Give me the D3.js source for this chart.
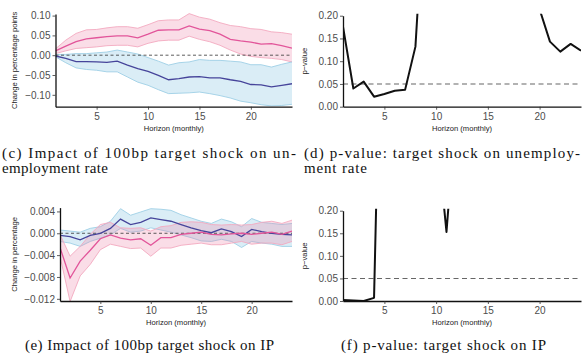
<!DOCTYPE html>
<html>
<head>
<meta charset="utf-8">
<script src="https://cdn.jsdelivr.net/npm/d3@7"></script>
<style>
  body { margin: 0; background: #fff; }
  svg { display: block; }
  .tick text { font-family: "Liberation Sans", Arial, sans-serif; font-size: 10px; fill: #4d4d4d; }
  .axis-title { font-family: "Liberation Sans", Arial, sans-serif; font-size: 7.6px; fill: #222; }
  .caption { font-family: "Liberation Serif", "Times New Roman", serif; font-size: 15px; fill: #111; }
</style>
</head>
<body>
<svg id="chart" width="587" height="356"></svg>
<script>
// horizon (months)
const horizon = [1, 2, 3, 4, 5, 6, 7, 8, 9, 10, 11, 12, 13, 14, 15, 16, 17, 18, 19, 20, 21, 22, 23, 24];

// (c) unemployment rate response
const unempPink   = [0.011, 0.023, 0.034, 0.041, 0.044, 0.047, 0.049, 0.049, 0.044, 0.053, 0.063, 0.064, 0.064, 0.074, 0.066, 0.062, 0.053, 0.040, 0.036, 0.033, 0.028, 0.029, 0.024, 0.018];
const unempPinkHi = [0.016, 0.038, 0.055, 0.064, 0.065, 0.069, 0.072, 0.072, 0.068, 0.077, 0.087, 0.089, 0.089, 0.105, 0.096, 0.091, 0.082, 0.075, 0.072, 0.067, 0.065, 0.059, 0.057, 0.053];
const unempPinkLo = [0.004, 0.011, 0.017, 0.019, 0.021, 0.024, 0.025, 0.025, 0.021, 0.030, 0.036, 0.038, 0.038, 0.048, 0.040, 0.034, 0.025, 0.013, 0.003, -0.003, -0.006, -0.008, -0.011, -0.017];
const unempBlue   = [-0.002, -0.008, -0.016, -0.016, -0.017, -0.018, -0.015, -0.025, -0.034, -0.041, -0.051, -0.062, -0.059, -0.055, -0.054, -0.057, -0.057, -0.062, -0.066, -0.074, -0.075, -0.080, -0.076, -0.072];
const unempBlueHi = [0.002, 0.002, 0.004, 0.004, 0.006, 0.008, 0.013, 0.008, 0.003, -0.006, -0.015, -0.025, -0.019, -0.017, -0.011, -0.013, -0.013, -0.015, -0.017, -0.024, -0.024, -0.030, -0.023, -0.017];
const unempBlueLo = [-0.004, -0.019, -0.032, -0.036, -0.038, -0.042, -0.042, -0.055, -0.068, -0.076, -0.087, -0.097, -0.096, -0.095, -0.093, -0.097, -0.102, -0.108, -0.116, -0.120, -0.125, -0.128, -0.127, -0.124];

// (d) p-values, unemployment
const pUnemp = [0.176, 0.040, 0.055, 0.022, 0.028, 0.035, 0.037, 0.132, 0.51, 0.58, 0.64, 0.70, 0.66, 0.61, 0.57, 0.52, 0.47, 0.41, 0.33, 0.214, 0.143, 0.121, 0.138, 0.123];

// (e) industrial production response
const ipPink   = [-0.0026, -0.0082, -0.0051, -0.0031, -0.0010, -0.0003, -0.0009, -0.0012, -0.0010, -0.0022, -0.0008, -0.0008, -0.0002, 0.0000, 0.0002, -0.0002, -0.0003, -0.0001, 0.0000, -0.0002, 0.0000, 0.0002, -0.0002, 0.0004];
const ipPinkHi = [-0.0002, -0.0042, -0.0024, -0.0002, 0.0016, 0.0020, 0.0010, 0.0009, 0.0010, 0.0004, 0.0012, 0.0014, 0.0020, 0.0021, 0.0020, 0.0016, 0.0015, 0.0016, 0.0015, 0.0016, 0.0020, 0.0022, 0.0018, 0.0024];
const ipPinkLo = [-0.0042, -0.0125, -0.0078, -0.0057, -0.0030, -0.0020, -0.0024, -0.0028, -0.0027, -0.0042, -0.0027, -0.0027, -0.0022, -0.0020, -0.0018, -0.0021, -0.0021, -0.0018, -0.0015, -0.0020, -0.0018, -0.0018, -0.0021, -0.0015];
const ipBlue   = [-0.0004, -0.0006, -0.0012, -0.0004, 0.0000, 0.0009, 0.0026, 0.0016, 0.0020, 0.0028, 0.0025, 0.0022, 0.0016, 0.0010, 0.0005, 0.0001, 0.0008, 0.0003, -0.0006, 0.0007, 0.0003, 0.0000, -0.0002, -0.0003];
const ipBlueHi = [0.0006, 0.0004, 0.0002, 0.0009, 0.0012, 0.0022, 0.0045, 0.0033, 0.0039, 0.0045, 0.0044, 0.0042, 0.0034, 0.0028, 0.0022, 0.0018, 0.0026, 0.0021, 0.0012, 0.0027, 0.0020, 0.0018, 0.0016, 0.0018];
const ipBlueLo = [-0.0015, -0.0018, -0.0024, -0.0015, -0.0009, -0.0003, 0.0009, 0.0002, 0.0004, 0.0010, 0.0006, 0.0002, -0.0003, -0.0008, -0.0014, -0.0015, -0.0011, -0.0015, -0.0026, -0.0015, -0.0018, -0.0020, -0.0024, -0.0024];

// (f) p-values, IP
const pIP = [0.002, 0.001, 0.000, 0.007, 1.0, 0.82, 0.71, 0.62, 0.52, 0.388, 0.153, 0.447, 0.55, 0.62, 0.48, 0.71, 0.66, 0.58, 0.74, 0.69, 0.63, 0.77, 0.72, 0.68];

const xTicks = [5, 10, 15, 20];
const irfTicksUnemp = [-0.10, -0.05, 0.00, 0.05, 0.10];
const irfTicksIP = [-0.012, -0.008, -0.004, 0.000, 0.004];
const pTicks = [0.00, 0.05, 0.10, 0.15, 0.20];

const colors = {
  pinkLine: "#e2559a", pinkFill: "rgba(238,130,165,0.27)", pinkEdge: "#f3a9c0",
  blueLine: "#46449a", blueFill: "rgba(120,190,220,0.27)", blueEdge: "#9ecfe5"
};

const svg = d3.select("#chart");

function makeScales(p) {
  const x = d3.scaleLinear().domain([1, 24]).range([p.left, p.right]);
  const y = d3.scaleLinear().domain(p.yDomain).range([p.bottom, p.top]);
  return { x, y };
}

function addClip(p) {
  svg.append("clipPath").attr("id", "clip-" + p.id)
    .append("rect")
    .attr("x", p.left).attr("y", p.top - 2)
    .attr("width", p.right - p.left).attr("height", p.bottom - p.top + 2);
  return svg.append("g").attr("clip-path", `url(#clip-${p.id})`);
}

function drawAxes(p, x, y) {
  const xAxis = svg.append("g")
    .attr("transform", `translate(0,${p.bottom})`)
    .call(d3.axisBottom(x).tickValues(xTicks).tickSize(3).tickSizeOuter(0).tickPadding(3));
  const yAxis = svg.append("g")
    .attr("transform", `translate(${p.left},0)`)
    .call(d3.axisLeft(y).tickValues(p.yTicks).tickFormat(d3.format(p.fmt)).tickSize(3).tickSizeOuter(0).tickPadding(2));
  [xAxis, yAxis].forEach((a) => {
    a.select(".domain").attr("stroke", "#111").attr("stroke-width", 1.3);
    a.selectAll(".tick line").attr("stroke", "#333").attr("stroke-width", 0.8);
  });

  svg.append("text").attr("class", "axis-title")
    .attr("x", (p.left + p.right) / 2).attr("y", p.bottom + 24)
    .attr("text-anchor", "middle").text("Horizon (monthly)");
  svg.append("text").attr("class", "axis-title")
    .attr("transform", `translate(${p.yTitleX},${(p.top + p.bottom) / 2}) rotate(-90)`)
    .attr("text-anchor", "middle").text(p.yTitle);
}

function drawIRF(p) {
  const { x, y } = makeScales(p);
  const plot = addClip(p);

  const area = d3.area().x((d) => x(d.h)).y0((d) => y(d.lo)).y1((d) => y(d.hi));
  const line = d3.line().x((d) => x(d.h)).y((d) => y(d.v));

  p.series.forEach((s) => {
    const rows = horizon.map((h, i) => ({ h, v: s.mid[i], lo: s.lo[i], hi: s.hi[i] }));
    plot.append("path").datum(rows).attr("d", area).attr("fill", s.fill);
    plot.append("path").datum(rows.map((d) => ({ h: d.h, v: d.hi }))).attr("d", line)
      .attr("fill", "none").attr("stroke", s.edge).attr("stroke-width", 0.9);
    plot.append("path").datum(rows.map((d) => ({ h: d.h, v: d.lo }))).attr("d", line)
      .attr("fill", "none").attr("stroke", s.edge).attr("stroke-width", 0.9);
  });

  plot.append("line")
    .attr("x1", p.left).attr("x2", p.right).attr("y1", y(0)).attr("y2", y(0))
    .attr("stroke", "#333").attr("stroke-width", 0.8).attr("stroke-dasharray", "3,2.5");

  p.series.forEach((s) => {
    const rows = horizon.map((h, i) => ({ h, v: s.mid[i] }));
    plot.append("path").datum(rows).attr("d", line)
      .attr("fill", "none").attr("stroke", s.color).attr("stroke-width", 1.3);
  });

  drawAxes(p, x, y);
}

function drawPValue(p) {
  const { x, y } = makeScales(p);
  const plot = addClip(p);

  plot.append("line")
    .attr("x1", p.left).attr("x2", p.right).attr("y1", y(0.05)).attr("y2", y(0.05))
    .attr("stroke", "#666").attr("stroke-width", 1.1).attr("stroke-dasharray", "5,3.5");

  const line = d3.line().x((d, i) => x(horizon[i])).y((d) => y(d));
  plot.append("path").datum(p.values).attr("d", line)
    .attr("fill", "none").attr("stroke", "#111").attr("stroke-width", 2).attr("stroke-linejoin", "round");

  drawAxes(p, x, y);
}

drawIRF({
  id: "c", left: 55.5, right: 292, top: 14, bottom: 106.7, yDomain: [-0.13, 0.104],
  yTicks: irfTicksUnemp, fmt: ".2f", yTitle: "Change in percentage points", yTitleX: 17,
  series: [
    { mid: unempPink, lo: unempPinkLo, hi: unempPinkHi, color: colors.pinkLine, fill: colors.pinkFill, edge: colors.pinkEdge },
    { mid: unempBlue, lo: unempBlueLo, hi: unempBlueHi, color: colors.blueLine, fill: colors.blueFill, edge: colors.blueEdge }
  ]
});

drawPValue({
  id: "d", left: 343, right: 581, top: 15.7, bottom: 106.7, yDomain: [0, 0.2],
  yTicks: pTicks, fmt: ".2f", yTitle: "p\u2212value", yTitleX: 307, values: pUnemp
});

drawIRF({
  id: "e", left: 60, right: 292, top: 207.6, bottom: 301, yDomain: [-0.0124, 0.0047],
  yTicks: irfTicksIP, fmt: ".3f", yTitle: "Change in percentage", yTitleX: 17,
  series: [
    { mid: ipBlue, lo: ipBlueLo, hi: ipBlueHi, color: colors.blueLine, fill: colors.blueFill, edge: colors.blueEdge },
    { mid: ipPink, lo: ipPinkLo, hi: ipPinkHi, color: colors.pinkLine, fill: colors.pinkFill, edge: colors.pinkEdge }
  ]
});

drawPValue({
  id: "f", left: 343, right: 581, top: 210.7, bottom: 301, yDomain: [0, 0.2],
  yTicks: pTicks, fmt: ".2f", yTitle: "p\u2212value", yTitleX: 307, values: pIP
});

// sub-figure captions (widths follow the typeset lines of the original)
const captions = [
  { x: 2, y: 158, text: "(c) Impact of 100bp target shock on un-", width: 294 },
  { x: 2, y: 173, text: "employment rate", width: 106 },
  { x: 304, y: 158, text: "(d) p-value:  target shock on unemploy-", width: 276 },
  { x: 304, y: 173, text: "ment rate", width: 63 },
  { x: 25, y: 350, text: "(e) Impact of 100bp target shock on IP", width: 249 },
  { x: 341, y: 350, text: "(f) p-value: target shock on IP", width: 205 }
];
captions.forEach((c) => {
  svg.append("text").attr("class", "caption")
    .attr("x", c.x).attr("y", c.y)
    .attr("textLength", c.width).attr("lengthAdjust", "spacing")
    .text(c.text);
});
</script>
</body>
</html>
